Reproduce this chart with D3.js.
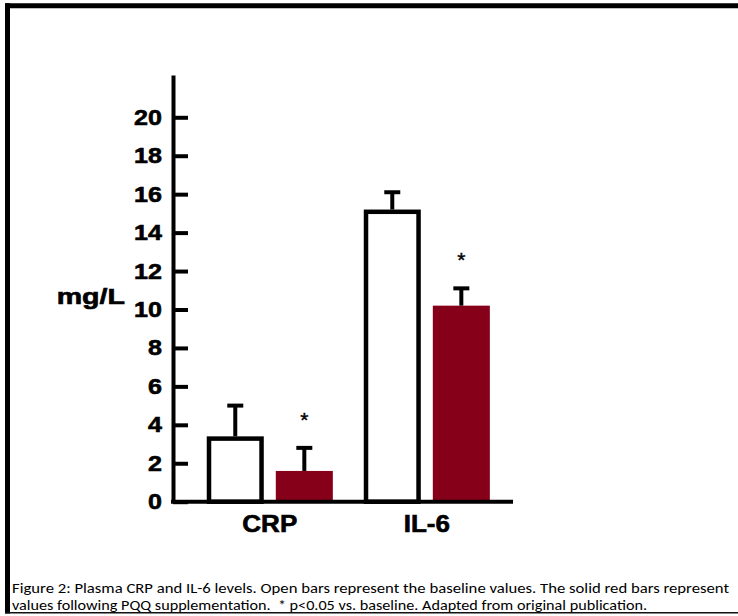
<!DOCTYPE html>
<html>
<head>
<meta charset="utf-8">
<script src="https://cdn.jsdelivr.net/npm/d3@7"></script>
<style>
  body { margin: 0; background: #fff; }
</style>
</head>
<body>
<div id="chart"></div>
<script>
// Values (mg/L)
var categories = ["CRP", "IL-6"];
var groups = ["baseline", "pqq"];
var baselineValues = [3.4, 15.2];
var baselineErrors = [1.6, 0.9];
var pqqValues = [1.6, 10.2];
var pqqErrors = [1.2, 0.9];
var pqqMarks = ["*", "*"];
var yTicks = [0, 2, 4, 6, 8, 10, 12, 14, 16, 18, 20];
var yLabel = "mg/L";
var captionLines = [
  "Figure 2: Plasma CRP and IL-6 levels. Open bars represent the baseline values. The solid red bars represent",
  "values following PQQ supplementation.  * p<0.05 vs. baseline. Adapted from original publication."
];

// layout
var width = 738, height = 616;
var axisX = 173, axisBottom = 501.7, axisTop = 75, axisEnd = 513;
var red = "#86001a";
var boldFont = "'Liberation Sans', Arial, sans-serif";

var svg = d3.select("#chart").append("svg")
    .attr("width", width)
    .attr("height", height);

svg.append("rect").attr("width", width).attr("height", height).attr("fill", "#fff");

// frame round the figure
svg.append("line").attr("x1", 5).attr("x2", width).attr("y1", 5.8).attr("y2", 5.8)
    .attr("stroke", "#000").attr("stroke-width", 5);
svg.append("line").attr("x1", 7.5).attr("x2", 7.5).attr("y1", 3.3).attr("y2", 613.5)
    .attr("stroke", "#000").attr("stroke-width", 5);
svg.append("line").attr("x1", 5).attr("x2", width).attr("y1", 612.8).attr("y2", 612.8)
    .attr("stroke", "#111").attr("stroke-width", 1.6);

// scales
var y = d3.scaleLinear().domain([0, 22.2]).range([axisBottom, axisTop]);
var x0 = d3.scaleBand().domain(categories)
    .range([axisX, 523.6]).paddingInner(0.197).paddingOuter(0.215);
var x1 = d3.scaleBand().domain(groups)
    .range([0, x0.bandwidth()]).paddingInner(0.174);

var rows = [];
categories.forEach(function(c, i) {
  rows.push({cat: c, group: "baseline", value: baselineValues[i], err: baselineErrors[i], mark: ""});
  rows.push({cat: c, group: "pqq", value: pqqValues[i], err: pqqErrors[i], mark: pqqMarks[i]});
});

var sw = 4.5;
var bars = svg.append("g");

bars.selectAll("rect.bar").data(rows).enter().append("rect")
    .attr("class", "bar")
    .attr("x", function(d) { return x0(d.cat) + x1(d.group) + (d.group == "baseline" ? sw / 2 : 0); })
    .attr("width", function(d) { return x1.bandwidth() - (d.group == "baseline" ? sw : 0); })
    .attr("y", function(d) { return y(d.value) + (d.group == "baseline" ? sw / 2 : 0); })
    .attr("height", function(d) { return y(0) - y(d.value) - (d.group == "baseline" ? sw / 2 : 0); })
    .attr("fill", function(d) { return d.group == "baseline" ? "#fff" : red; })
    .attr("stroke", function(d) { return d.group == "baseline" ? "#000" : "none"; })
    .attr("stroke-width", sw);

// error bars (upper half only)
function cx(d) { return x0(d.cat) + x1(d.group) + x1.bandwidth() / 2; }

bars.selectAll("line.err").data(rows).enter().append("line")
    .attr("class", "err")
    .attr("x1", cx).attr("x2", cx)
    .attr("y1", function(d) { return y(d.value); })
    .attr("y2", function(d) { return y(d.value + d.err); })
    .attr("stroke", "#000").attr("stroke-width", 4);

bars.selectAll("line.cap").data(rows).enter().append("line")
    .attr("class", "cap")
    .attr("x1", function(d) { return cx(d) - 8; })
    .attr("x2", function(d) { return cx(d) + 8; })
    .attr("y1", function(d) { return y(d.value + d.err); })
    .attr("y2", function(d) { return y(d.value + d.err); })
    .attr("stroke", "#000").attr("stroke-width", 4);

bars.selectAll("text.mark").data(rows.filter(function(d) { return d.mark; })).enter().append("text")
    .attr("class", "mark")
    .attr("x", cx)
    .attr("y", function(d) { return y(d.value + d.err) - 21; })
    .attr("text-anchor", "middle")
    .attr("font-family", "'Liberation Sans', Arial, sans-serif")
    .attr("font-size", 21)
    .attr("stroke", "#000").attr("stroke-width", 0.4)
    .text(function(d) { return d.mark; });

// y axis, ticks pointing into the plot
var yAxis = svg.append("g")
    .attr("transform", "translate(" + axisX + ",0)")
    .call(d3.axisLeft(y).tickValues(yTicks).tickSize(-15).tickSizeOuter(0).tickPadding(11));

yAxis.select(".domain").attr("stroke", "#000").attr("stroke-width", 4);
yAxis.selectAll(".tick line").attr("stroke", "#000").attr("stroke-width", 4);
yAxis.selectAll(".tick text")
    .attr("fill", "#000")
    .attr("font-family", boldFont)
    .attr("font-weight", "bold")
    .attr("font-size", 22)
    .attr("stroke", "#000").attr("stroke-width", 0.6);

// x axis line
svg.append("line")
    .attr("x1", axisX - 2).attr("x2", axisEnd)
    .attr("y1", y(0)).attr("y2", y(0))
    .attr("stroke", "#000").attr("stroke-width", 4);

svg.selectAll("text.cat").data(categories).enter().append("text")
    .attr("class", "cat")
    .attr("x", function(d) { return x0(d) + x0.bandwidth() / 2; })
    .attr("y", 532)
    .attr("text-anchor", "middle")
    .attr("font-family", boldFont)
    .attr("font-weight", "bold")
    .attr("font-size", 23)
    .attr("stroke", "#000").attr("stroke-width", 0.6)
    .text(function(d) { return d; });

svg.append("text")
    .attr("class", "ylab")
    .attr("x", 125)
    .attr("y", 304)
    .attr("text-anchor", "end")
    .attr("font-family", boldFont)
    .attr("font-weight", "bold")
    .attr("font-size", 22)
    .attr("stroke", "#000").attr("stroke-width", 0.6)
    .text(yLabel);

// the original lettering is a bit wider than Arial bold
function stretch(sel, k) {
  sel.each(function() {
    var w = this.getComputedTextLength();
    d3.select(this).attr("textLength", w * k).attr("lengthAdjust", "spacingAndGlyphs");
  });
}
stretch(yAxis.selectAll(".tick text"), 1.14);
stretch(svg.selectAll("text.cat"), 1.13);
stretch(svg.selectAll("text.ylab"), 1.3);

// caption
var capLens = [717, 635];
svg.selectAll("text.caption").data(captionLines).enter().append("text")
    .attr("class", "caption")
    .attr("x", 12)
    .attr("y", function(d, i) { return 592.5 + i * 17.6; })
    .attr("font-family", "Carlito, Calibri, Lato, sans-serif")
    .attr("font-size", 15)
    .attr("fill", "#000")
    .attr("textLength", function(d, i) { return capLens[i]; })
    .attr("lengthAdjust", "spacingAndGlyphs")
    .style("white-space", "pre")
    .text(function(d) { return d; });
</script>
</body>
</html>
